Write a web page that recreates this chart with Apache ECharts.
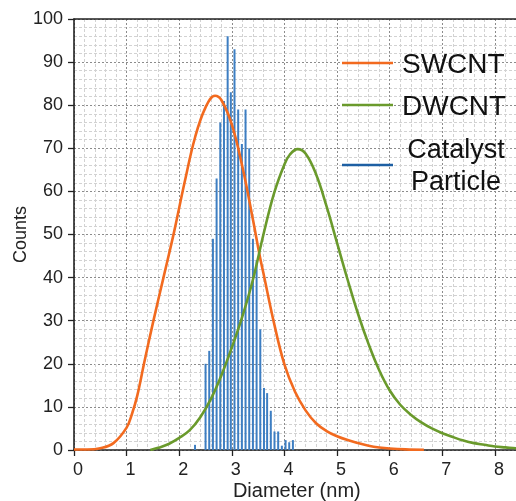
<!DOCTYPE html>
<html>
<head>
<meta charset="utf-8">
<script src="https://cdn.jsdelivr.net/npm/echarts@6/dist/echarts.min.js"></script>
<style>
html,body{margin:0;padding:0;background:#fff;}
#chart{width:516px;height:501px;}
</style>
</head>
<body>
<div id="chart"></div>
<script>
// ---- data ----
const swcntD      = [0, 0.25, 0.5, 0.75, 1.0, 1.1, 1.2, 1.33, 1.5, 1.7, 1.9, 2.1, 2.3, 2.5, 2.68, 2.8, 3.0, 3.2, 3.4, 3.53, 3.6, 3.8, 4.0, 4.2, 4.4, 4.6, 4.8, 5.0, 5.2, 5.4, 5.6, 5.8, 6.0, 6.3, 6.65];
const swcntCounts = [0.1, 0.1, 0.4, 1.6, 5.2, 8.3, 12.5, 20, 29.5, 40, 50.5, 62, 72.5, 79.5, 82.2, 81.2, 75.5, 65.7, 53.5, 45, 41, 29.5, 19.8, 13.5, 9.2, 6.2, 4.4, 3.2, 2.3, 1.6, 1.0, 0.6, 0.35, 0.15, 0.05];

const dwcntD      = [1.45, 1.6, 1.8, 2.0, 2.2, 2.4, 2.6, 2.8, 3.0, 3.2, 3.4, 3.6, 3.8, 4.0, 4.1, 4.25, 4.4, 4.6, 4.8, 5.0, 5.2, 5.4, 5.6, 5.8, 6.0, 6.2, 6.4, 6.6, 6.8, 7.0, 7.2, 7.4, 7.6, 7.8, 8.0, 8.2, 8.4, 8.6];
const dwcntCounts = [0, 0.5, 1.4, 2.8, 4.6, 7.6, 11.8, 17.3, 23.8, 31, 39.5, 50, 59.5, 66.3, 68.5, 69.8, 68.8, 64, 56.5, 48, 39.5, 31.5, 24.5, 18.5, 13.8, 10.5, 8.2, 6.4, 5, 3.9, 3, 2.2, 1.6, 1.2, 0.8, 0.6, 0.4, 0.3];

const catalystD      = [2.30, 2.50, 2.57, 2.64, 2.71, 2.78, 2.85, 2.92, 2.98, 3.05, 3.12, 3.19, 3.26, 3.33, 3.40, 3.47, 3.54, 3.61, 3.67, 3.74, 3.81, 3.88, 3.95, 4.02, 4.09, 4.16];
const catalystCounts = [1.2, 20, 23, 49, 63, 76, 81, 96, 83, 93, 79, 71, 79, 70, 49, 44, 28, 14.4, 13.2, 9.1, 4.3, 4.3, 1, 2.3, 1.8, 2.3];

const legendNames = ['SWCNT', 'DWCNT', 'Catalyst\nParticle'];
const xName = 'Diameter (nm)';
const yName = 'Counts';

const colors = {sw: '#F26A1F', dw: '#6A9A2C', bar: '#3D7EC2', barLegend: '#1D5FA3'};
const FONT = '"Liberation Sans", Arial, sans-serif';

const zip = (a, b) => a.map((v, i) => [v, b[i]]);

const chart = echarts.init(document.getElementById('chart'), null, {renderer: 'canvas'});

const axisCommon = {
  axisLine: {show: true, onZero: false, lineStyle: {color: '#222', width: 1.6}},
  axisTick: {show: true, length: 6, lineStyle: {color: '#222', width: 1.3}},
  splitLine: {show: true, lineStyle: {color: '#8c8c8c', width: 1, type: [2, 2]}},
  minorTick: {show: true, splitNumber: 5, length: 0},
  minorSplitLine: {show: true, lineStyle: {color: '#d2d2d2', width: 1, type: [3, 2]}}
};

const legendText = (txt, x, y, size, align) => ({
  type: 'text', x: x, y: y, silent: true, z: 100,
  style: {text: txt, fontSize: size, fontFamily: FONT, fill: '#111', align: align,
          verticalAlign: 'middle', lineHeight: 32, stroke: 'none', lineWidth: 0}
});
const legendLine = (y, color) => ({
  type: 'line', silent: true, z: 100,
  shape: {x1: 342, y1: y, x2: 393, y2: y}, style: {stroke: color, lineWidth: 2.7}
});

chart.setOption({
  animation: false,
  backgroundColor: '#fff',
  grid: {left: 74, right: -31.6, top: 19, bottom: 51, containLabel: false, outerBoundsMode: 'none'},
  xAxis: [
    Object.assign({}, axisCommon, {
      type: 'value', min: 0, max: 9, interval: 1, position: 'bottom',
      name: xName, nameLocation: 'middle', nameGap: 31, nameMoveOverlap: false,
      nameTextStyle: {fontFamily: FONT, fontSize: 20, color: '#222', padding: [0, 28, 0, 0]},
      axisLabel: {fontFamily: FONT, fontSize: 18, color: '#222', margin: 11, padding: [0, 0, 0, 8]}
    }),
    {
      type: 'value', min: 0, max: 9, position: 'top',
      axisLine: {show: true, onZero: false, lineStyle: {color: '#222', width: 1.6}},
      axisTick: {show: false}, axisLabel: {show: false}, splitLine: {show: false}
    }
  ],
  yAxis: Object.assign({}, axisCommon, {
    type: 'value', min: 0, max: 100, interval: 10,
    name: yName, nameLocation: 'middle', nameGap: 44, nameMoveOverlap: false,
    nameTextStyle: {fontFamily: FONT, fontSize: 18, color: '#222'},
    axisLabel: {fontFamily: FONT, fontSize: 18, color: '#222', margin: 11}
  }),
  series: [
    {
      name: 'Catalyst Particle', type: 'bar', xAxisIndex: 0,
      data: zip(catalystD, catalystCounts),
      barWidth: 2, itemStyle: {color: colors.bar}, z: 2
    },
    {
      name: 'SWCNT', type: 'line', xAxisIndex: 0, smooth: 0.4, showSymbol: false,
      data: zip(swcntD, swcntCounts),
      lineStyle: {color: colors.sw, width: 2.6}, itemStyle: {color: colors.sw}, z: 3
    },
    {
      name: 'DWCNT', type: 'line', xAxisIndex: 0, smooth: 0.4, showSymbol: false,
      data: zip(dwcntD, dwcntCounts),
      lineStyle: {color: colors.dw, width: 2.6}, itemStyle: {color: colors.dw}, z: 3
    }
  ],
  graphic: [
    legendLine(63, colors.sw),
    legendLine(105, colors.dw),
    legendLine(165, colors.barLegend),
    legendText(legendNames[0], 402, 65, 28, 'left'),
    legendText(legendNames[1], 402, 107, 28, 'left'),
    legendText(legendNames[2], 456, 167, 27, 'center')
  ]
});
</script>
</body>
</html>
